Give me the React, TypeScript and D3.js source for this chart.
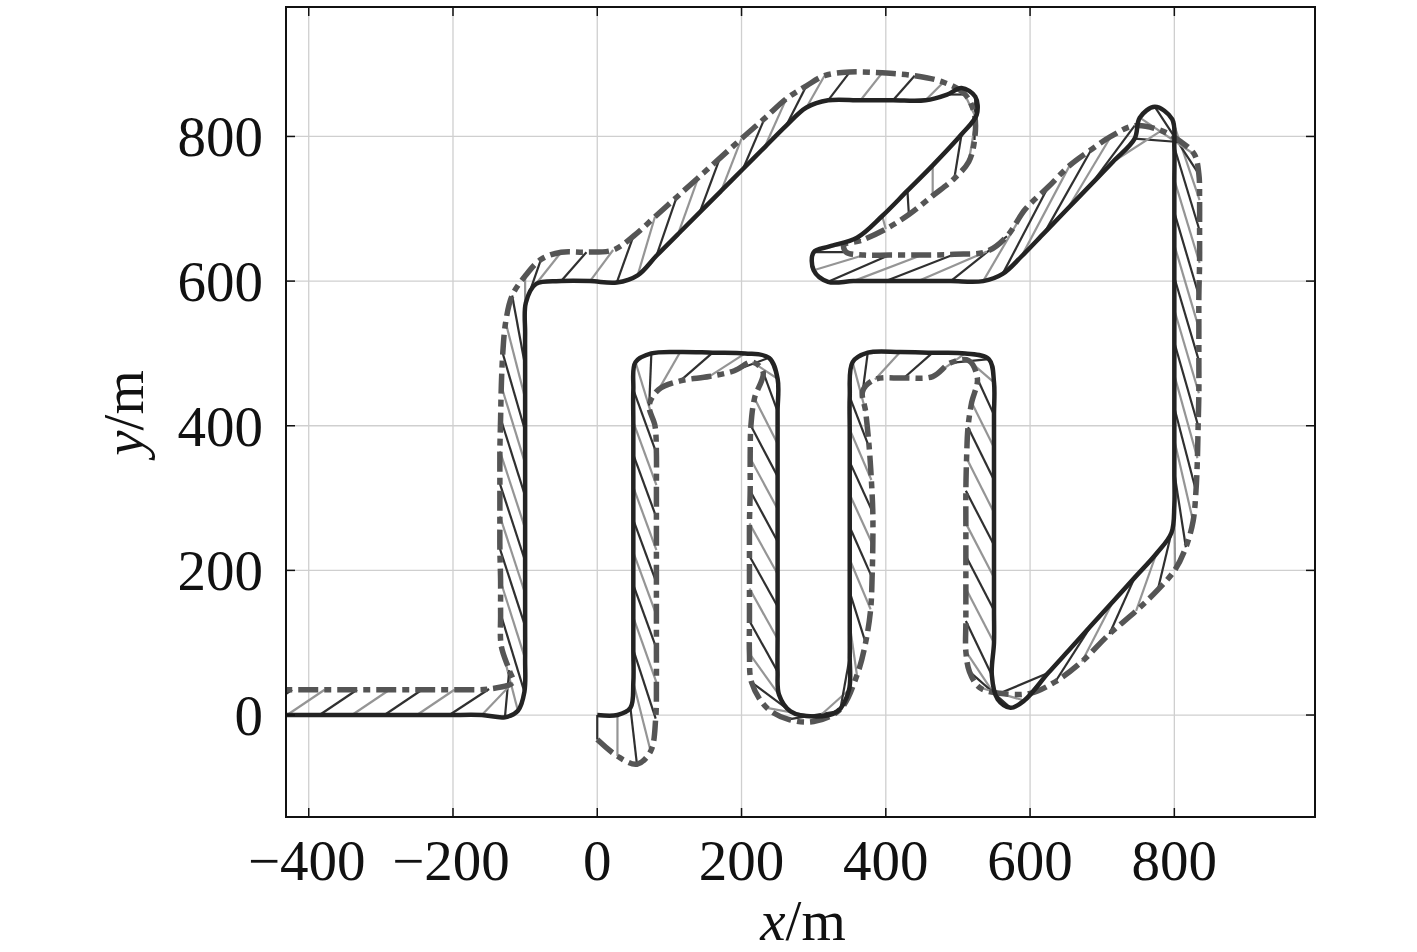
import React from 'react';
import * as d3 from 'd3';

type P = [number, number];

const xTicks = [-400, -200, 0, 200, 400, 600, 800];
const yTicks = [0, 200, 400, 600, 800];
const xTitle = 'x';
const yTitle = 'y';
const unit = '/m';

// reference trajectory, sampled in time
const refPath: P[] = [
  [0, 0], [28, 0], [46, 10], [50, 45], [50, 90], [50, 135], [50, 180], [50, 225], [50, 270], [50, 315],
  [50, 360], [50, 405], [50, 450], [53, 488], [75, 500], [115, 502], [160, 501], [205, 500], [238, 494], [250, 465],
  [250, 420], [250, 375], [250, 330], [250, 285], [250, 240], [250, 195], [250, 150], [250, 105], [250, 60], [252, 28],
  [268, 5], [300, -2], [333, 5], [349, 35], [350, 80], [350, 125], [350, 170], [350, 215], [350, 260], [350, 305],
  [350, 350], [350, 395], [350, 440], [354, 488], [375, 501], [420, 502], [465, 501], [510, 500], [543, 492], [550, 460],
  [550, 415], [550, 370], [550, 325], [550, 280], [550, 235], [550, 190], [550, 145], [550, 100], [547, 55], [555, 22],
  [573, 10], [592, 20], [625, 58], [655, 91], [685, 124], [715, 157], [745, 190], [775, 223], [796, 252], [800, 290],
  [800, 335], [800, 380], [800, 425], [800, 470], [800, 515], [800, 560], [800, 605], [800, 650], [800, 695], [800, 740],
  [800, 785], [797, 824], [773, 841], [752, 826], [745, 797], [715, 765], [684, 733], [652, 700], [620, 667], [588, 634],
  [562, 610], [535, 600], [490, 600], [445, 600], [400, 600], [355, 600], [320, 599], [300, 615], [300, 640], [322, 648],
  [360, 660], [395, 690], [430, 725], [465, 760], [505, 803], [526, 830], [524, 855], [505, 867], [485, 858], [455, 850],
  [410, 850], [365, 850], [320, 850], [290, 840], [262, 815], [232, 785], [202, 755], [172, 725], [142, 695], [112, 665],
  [82, 635], [56, 608], [27, 598], [-10, 600], [-50, 600], [-85, 596], [-99, 570], [-100, 528], [-100, 483], [-100, 438],
  [-100, 393], [-100, 348], [-100, 303], [-100, 258], [-100, 213], [-100, 168], [-100, 123], [-100, 78], [-101, 32], [-110, 6],
  [-128, -3], [-160, 0], [-205, 0], [-250, 0], [-295, 0], [-340, 0], [-385, 0], [-430, 0], [-475, 0], [-520, 0],
];

// tracked trajectory, same time stamps
const trackPath: P[] = [
  [0, -34], [28, -57], [55, -68], [74, -50], [81, -5], [82, 45], [82, 92], [82, 138], [82, 183], [82, 228],
  [82, 273], [82, 318], [82, 362], [80, 400], [72, 428], [85, 450], [115, 462], [155, 468], [190, 476], [215, 488],
  [230, 474], [218, 438], [213, 400], [212, 355], [212, 310], [211, 265], [211, 220], [211, 175], [211, 130], [211, 85],
  [214, 45], [235, 10], [265, -6], [300, -9], [337, 8], [360, 55], [372, 100], [379, 146], [381, 190], [382, 235],
  [382, 280], [380, 325], [377, 370], [372, 420], [368, 448], [385, 464], [425, 466], [465, 468], [490, 487], [515, 490],
  [527, 465], [519, 432], [514, 398], [512, 355], [511, 310], [511, 265], [511, 220], [511, 175], [511, 130], [511, 88],
  [516, 60], [530, 38], [558, 30], [600, 30], [635, 46], [672, 74], [710, 112], [747, 144], [777, 173], [801, 201],
  [816, 232], [826, 268], [830, 310], [832, 355], [833, 400], [834, 445], [834, 490], [834, 535], [834, 580], [835, 625],
  [835, 670], [835, 712], [834, 748], [828, 775], [810, 792], [782, 808], [745, 815], [712, 800], [685, 782], [655, 760],
  [625, 730], [593, 699], [568, 662], [540, 641], [495, 637], [450, 636], [405, 636], [370, 636], [345, 640], [342, 650],
  [365, 656], [400, 672], [432, 692], [465, 718], [495, 742], [515, 765], [523, 795], [523, 830], [510, 858], [480, 875],
  [440, 884], [395, 888], [350, 889], [315, 884], [290, 870], [262, 852], [232, 825], [200, 797], [170, 770], [140, 743],
  [110, 716], [80, 689], [50, 662], [22, 643], [-15, 640], [-50, 640], [-78, 630], [-100, 607], [-118, 580], [-127, 543],
  [-131, 500], [-133, 455], [-134, 410], [-135, 365], [-135, 320], [-135, 275], [-135, 230], [-134, 185], [-134, 140], [-133, 95],
  [-122, 62], [-117, 45], [-150, 36], [-198, 35], [-243, 35], [-288, 35], [-333, 35], [-378, 35], [-423, 35], [-468, 35],
];

const W = 1417;
const H = 952;
const L = 286, R = 1315, T = 7, B = 817;
const FONT = '"Liberation Serif", "Times New Roman", serif';

export default function App() {
  const x = d3.scaleLinear().domain([-431.5, 995]).range([L, R]);
  const y = d3.scaleLinear().domain([-141, 979]).range([B, T]);
  const line = d3
    .line<P>()
    .x((d) => x(d[0]))
    .y((d) => y(d[1]))
    .curve(d3.curveCatmullRom.alpha(0.5));

  const n = Math.min(refPath.length, trackPath.length);
  const hatches = d3.range(n).map((i) => ({ a: refPath[i], b: trackPath[i], dark: i % 2 === 0 }));
  const tick = 9;

  return (
    <svg width={W} height={H} style={{ position: 'absolute', left: 0, top: 0, background: '#fff' }}>
      <defs>
        <clipPath id="plotClip">
          <rect x={L} y={T} width={R - L} height={B - T} />
        </clipPath>
      </defs>
      <rect x={0} y={0} width={W} height={H} fill="#fff" />
      {xTicks.map((t) => (
        <line key={'gx' + t} x1={x(t)} x2={x(t)} y1={T} y2={B} stroke="#cfcfcf" strokeWidth={1.3} />
      ))}
      {yTicks.map((t) => (
        <line key={'gy' + t} x1={L} x2={R} y1={y(t)} y2={y(t)} stroke="#cfcfcf" strokeWidth={1.3} />
      ))}
      <g clipPath="url(#plotClip)">
        {hatches.map((h, i) => (
          <line
            key={'h' + i}
            x1={x(h.a[0])}
            y1={y(h.a[1])}
            x2={x(h.b[0])}
            y2={y(h.b[1])}
            stroke={h.dark ? '#303030' : '#959595'}
            strokeWidth={2.2}
          />
        ))}
        <path
          d={line(trackPath) || ''}
          fill="none"
          stroke="#555"
          strokeWidth={5.5}
          strokeDasharray="20,6,7,6"
          strokeLinejoin="round"
        />
        <path d={line(refPath) || ''} fill="none" stroke="#232323" strokeWidth={4.5} strokeLinejoin="round" />
      </g>
      <rect x={L} y={T} width={R - L} height={B - T} fill="none" stroke="#111" strokeWidth={2} />
      {xTicks.map((t) => (
        <g key={'tx' + t}>
          <line x1={x(t)} x2={x(t)} y1={B} y2={B - tick} stroke="#111" strokeWidth={1.5} />
          <line x1={x(t)} x2={x(t)} y1={T} y2={T + tick} stroke="#111" strokeWidth={1.5} />
          <text
            x={x(t) - (t < 0 ? 2 : 0)}
            y={880}
            textAnchor="middle"
            fontFamily={FONT}
            fontSize={57}
            fill="#111"
          >
            {t < 0 ? '\u2212' + Math.abs(t) : String(t)}
          </text>
        </g>
      ))}
      {yTicks.map((t) => (
        <g key={'ty' + t}>
          <line x1={L} x2={L + tick} y1={y(t)} y2={y(t)} stroke="#111" strokeWidth={1.5} />
          <line x1={R} x2={R - tick} y1={y(t)} y2={y(t)} stroke="#111" strokeWidth={1.5} />
          <text x={263} y={y(t)} dy="0.35em" textAnchor="end" fontFamily={FONT} fontSize={57} fill="#111">
            {String(t)}
          </text>
        </g>
      ))}
      <text x={803} y={940} textAnchor="middle" fontFamily={FONT} fontSize={57} fill="#111">
        <tspan fontStyle="italic">{xTitle}</tspan>
        {unit}
      </text>
      <text
        transform={`translate(143,413) rotate(-90)`}
        textAnchor="middle"
        fontFamily={FONT}
        fontSize={57}
        fill="#111"
      >
        <tspan fontStyle="italic">{yTitle}</tspan>
        {unit}
      </text>
    </svg>
  );
}
